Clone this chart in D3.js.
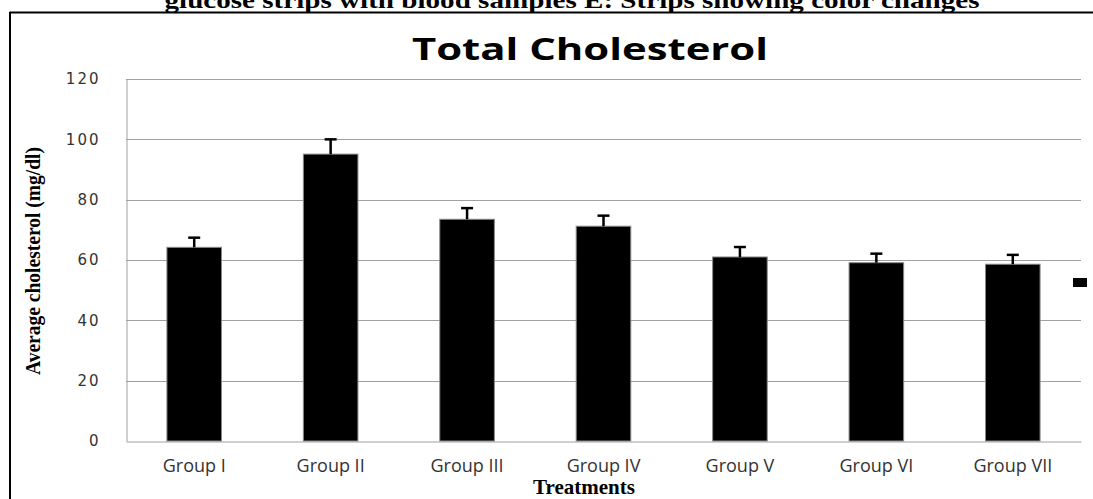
<!DOCTYPE html>
<html lang="en">

<head>
    <meta charset="UTF-8" />
    <title>Total Cholesterol</title>
    <script src="https://d3js.org/d3.v7.js"></script>
    <style>
        body { margin: 0; background: #fff; }
    </style>
</head>

<body>
    <svg id="chart"></svg>
</body>

<script>
    // values
    var groups = ["Group I", "Group II", "Group III", "Group IV", "Group V", "Group VI", "Group VII"];
    var means = [64.2, 95.1, 73.5, 71.2, 61.0, 59.1, 58.6];
    var errors = [3.2, 4.9, 3.7, 3.5, 3.3, 3.0, 3.1];
    var yTicks = [0, 20, 40, 60, 80, 100, 120];

    var width = 1093;
    var height = 499;
    var margin = { top: 79, right: 12, bottom: 58, left: 126 };

    var svg = d3.select("#chart")
        .attr("width", width)
        .attr("height", height);

    // caption line cut off at the top of the page
    svg.append("text")
        .attr("x", 572)
        .attr("y", 8)
        .attr("text-anchor", "middle")
        .attr("font-family", "Liberation Serif")
        .attr("font-weight", "bold")
        .attr("font-size", 23)
        .attr("textLength", 815)
        .attr("lengthAdjust", "spacingAndGlyphs")
        .text("glucose strips with blood samples E: Strips showing color changes");

    // frame lines (top and left only are visible)
    svg.append("line")
        .attr("x1", 9.5).attr("x2", width)
        .attr("y1", 12.5).attr("y2", 12.5)
        .attr("stroke", "black").attr("stroke-width", 2);
    svg.append("line")
        .attr("x1", 10).attr("x2", 10)
        .attr("y1", 12).attr("y2", height)
        .attr("stroke", "black").attr("stroke-width", 2);

    var g = svg.append("g");

    var x = d3.scaleBand()
        .domain(groups)
        .range([margin.left, width - margin.right])
        .paddingInner(0.6)
        .paddingOuter(0.3);

    var y = d3.scaleLinear()
        .domain([0, 120])
        .range([height - margin.bottom, margin.top]);

    // gridlines
    g.selectAll(".grid")
        .data(yTicks.filter(d => d > 0))
        .enter()
        .append("line")
        .attr("x1", margin.left)
        .attr("x2", width - margin.right)
        .attr("y1", d => Math.round(y(d)) + 0.5)
        .attr("y2", d => Math.round(y(d)) + 0.5)
        .attr("stroke", "#a0a0a0")
        .attr("stroke-width", 1);

    // y axis
    var yAxis = g.append("g")
        .attr("transform", `translate(${margin.left + 0.5},0)`)
        .call(d3.axisLeft(y).tickValues(yTicks).tickSize(0).tickPadding(26));
    yAxis.select(".domain").attr("stroke", "#a0a0a0");
    yAxis.selectAll("text")
        .attr("font-family", "DejaVu Sans")
        .attr("font-size", 15)
        .attr("letter-spacing", 2)
        .attr("fill", "#333");

    // x axis
    var xAxis = g.append("g")
        .attr("transform", `translate(0,${Math.round(y(0)) + 0.5})`)
        .call(d3.axisBottom(x).tickSize(0).tickPadding(18));
    xAxis.select(".domain").attr("stroke", "#a0a0a0");
    xAxis.selectAll("text")
        .attr("font-family", "Open Sans")
        .attr("font-size", 18)
        .attr("fill", "#333");

    // bars
    g.selectAll(".bar")
        .data(means)
        .enter()
        .append("rect")
        .attr("x", (d, i) => x(groups[i]))
        .attr("y", d => y(d))
        .attr("width", x.bandwidth())
        .attr("height", d => y(0) - y(d))
        .attr("fill", "black")
        .attr("stroke", "#888")
        .attr("stroke-width", 1);

    // error bars
    var eb = g.selectAll(".err")
        .data(means)
        .enter()
        .append("g");
    eb.append("line")
        .attr("x1", (d, i) => x(groups[i]) + x.bandwidth() / 2)
        .attr("x2", (d, i) => x(groups[i]) + x.bandwidth() / 2)
        .attr("y1", d => y(d))
        .attr("y2", (d, i) => y(d + errors[i]))
        .attr("stroke", "black")
        .attr("stroke-width", 2.5);
    eb.append("line")
        .attr("x1", (d, i) => x(groups[i]) + x.bandwidth() / 2 - 6)
        .attr("x2", (d, i) => x(groups[i]) + x.bandwidth() / 2 + 6)
        .attr("y1", (d, i) => y(d + errors[i]))
        .attr("y2", (d, i) => y(d + errors[i]))
        .attr("stroke", "black")
        .attr("stroke-width", 2.5);

    // legend marker (its text is cut off)
    svg.append("rect")
        .attr("x", 1073)
        .attr("y", 278)
        .attr("width", 14)
        .attr("height", 9)
        .attr("fill", "black");

    // chart title
    svg.append("text")
        .attr("x", 590)
        .attr("y", 60)
        .attr("text-anchor", "middle")
        .attr("font-family", "Open Sans")
        .attr("font-weight", "bold")
        .attr("font-size", 30)
        .attr("textLength", 356)
        .attr("lengthAdjust", "spacingAndGlyphs")
        .text("Total Cholesterol");

    // axis titles
    svg.append("text")
        .attr("transform", "translate(40,261) rotate(-90)")
        .attr("text-anchor", "middle")
        .attr("font-family", "Liberation Serif")
        .attr("font-weight", "bold")
        .attr("font-size", 21)
        .attr("textLength", 228)
        .attr("lengthAdjust", "spacingAndGlyphs")
        .text("Average cholesterol (mg/dl)");

    svg.append("text")
        .attr("x", 584)
        .attr("y", 494)
        .attr("text-anchor", "middle")
        .attr("font-family", "Liberation Serif")
        .attr("font-weight", "bold")
        .attr("font-size", 21)
        .text("Treatments");
</script>

</html>
